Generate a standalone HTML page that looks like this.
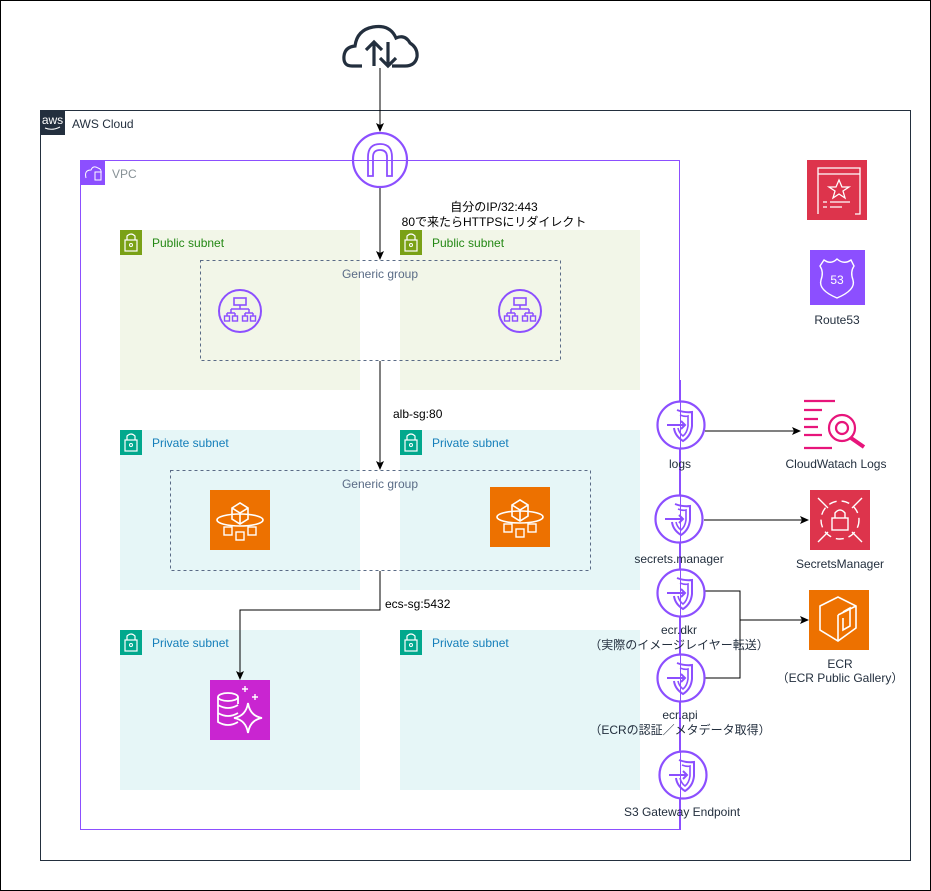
<!DOCTYPE html>
<html><head><meta charset="utf-8"><style>
html,body{margin:0;padding:0;background:#fff;}
svg{display:block;}
text{font-family:"Liberation Sans","Noto Sans CJK JP",sans-serif;font-size:12px;}
</style></head><body>
<svg width="931" height="891" viewBox="0 0 931 891" xmlns="http://www.w3.org/2000/svg">
<defs>
<marker id="ar" markerWidth="10" markerHeight="10" refX="8" refY="5" orient="auto" markerUnits="userSpaceOnUse"><path d="M0,1 L9,5 L0,9 L2,5 Z" fill="#000"/></marker>
<g id="ep">
<circle r="23.5" fill="#fff" stroke="#8C4FFF" stroke-width="2.2"/>
<path d="M-4,-15 Q4,-12 11,-13 L11,1 Q10,11 2,16 Q-6,11 -7,3" fill="none" stroke="#8C4FFF" stroke-width="2"/>
<path d="M-1,-10 Q4,-8 7,-9 L7,1 Q6,8 2,11 Q-2,8 -3,3" fill="none" stroke="#8C4FFF" stroke-width="1.6"/>
<path d="M-14,0 L4,0 M0,-4 L4,0 L0,4" fill="none" stroke="#8C4FFF" stroke-width="2"/>
</g>
<g id="alb">
<circle r="21" fill="none" stroke="#8C4FFF" stroke-width="2"/>
<rect x="-6" y="-13" width="12" height="7" fill="none" stroke="#8C4FFF" stroke-width="1.6"/>
<path d="M0,-6 V-2 M-9,-2 H9 M-9,-2 V2 M9,-2 V2 M-13,2 H-5 M5,2 H13 M-13,2 V5 M-5,2 V5 M5,2 V5 M13,2 V5" fill="none" stroke="#8C4FFF" stroke-width="1.5"/>
<rect x="-15.5" y="5" width="5" height="5" fill="none" stroke="#8C4FFF" stroke-width="1.4"/>
<rect x="-7.5" y="5" width="5" height="5" fill="none" stroke="#8C4FFF" stroke-width="1.4"/>
<rect x="2.5" y="5" width="5" height="5" fill="none" stroke="#8C4FFF" stroke-width="1.4"/>
<rect x="10.5" y="5" width="5" height="5" fill="none" stroke="#8C4FFF" stroke-width="1.4"/>
</g>
<g id="fg">
<rect width="60" height="60" fill="#ED7100"/>
<path d="M22,18 L30,13 L38,18 L38,29 L30,34 L22,29 Z M22,18 L30,23 L38,18 M30,23 V34" fill="none" stroke="#fff" stroke-width="1.6"/>
<ellipse cx="30" cy="30" rx="23" ry="6" fill="none" stroke="#fff" stroke-width="1.6"/>
<rect x="14" y="37" width="8" height="8" fill="none" stroke="#fff" stroke-width="1.4"/>
<rect x="26" y="42" width="8" height="8" fill="none" stroke="#fff" stroke-width="1.4"/>
<rect x="38" y="37" width="8" height="8" fill="none" stroke="#fff" stroke-width="1.4"/>
</g>
<g id="lock">
<rect width="22" height="25" fill="currentColor"/>
<rect x="5" y="10" width="12" height="11" fill="none" stroke="#fff" stroke-width="1.2"/>
<path d="M7,10 V6 Q11,2 15,6 V10" fill="none" stroke="#fff" stroke-width="1.2"/>
<circle cx="11" cy="15" r="1.5" fill="none" stroke="#fff"/>
</g>
</defs>

<rect x="0.5" y="0.5" width="930" height="890" fill="#fff" stroke="#000"/>

<!-- AWS cloud -->
<rect x="40.5" y="110.5" width="870" height="750" fill="none" stroke="#232F3E"/>
<rect x="40" y="110" width="25" height="25" fill="#232F3E"/>
<text x="52.5" y="124" fill="#fff" font-size="9" text-anchor="middle">aws</text>
<path d="M45,128 Q52,131 60,127" fill="none" stroke="#fff" stroke-width="1"/>
<text x="72" y="128" fill="#232F3E">AWS Cloud</text>

<!-- VPC -->
<rect x="80.5" y="160.5" width="599" height="669" fill="none" stroke="#8C4FFF"/>
<rect x="80" y="160" width="25" height="25" fill="#8C4FFF"/>
<path d="M86,178 Q84,170 91,170 Q93,165 98,168 Q102,169 101,174" fill="none" stroke="#fff" stroke-width="1"/>
<rect x="95" y="172" width="6" height="8" fill="none" stroke="#fff"/>
<text x="112" y="178" fill="#879196">VPC</text>

<!-- subnets -->
<rect x="120" y="230" width="240" height="160" fill="#F2F6E8"/>
<rect x="400" y="230" width="240" height="160" fill="#F2F6E8"/>
<rect x="120" y="430" width="240" height="160" fill="#E6F6F7"/>
<rect x="400" y="430" width="240" height="160" fill="#E6F6F7"/>
<rect x="120" y="630" width="240" height="160" fill="#E6F6F7"/>
<rect x="400" y="630" width="240" height="160" fill="#E6F6F7"/>
<g color="#7AA116"><use href="#lock" x="120" y="230"/><use href="#lock" x="400" y="230"/></g>
<g color="#01A88D"><use href="#lock" x="120" y="430"/><use href="#lock" x="400" y="430"/><use href="#lock" x="120" y="630"/><use href="#lock" x="400" y="630"/></g>
<text x="152" y="247" fill="#248814">Public subnet</text>
<text x="432" y="247" fill="#248814">Public subnet</text>
<text x="152" y="447" fill="#147EBA">Private subnet</text>
<text x="432" y="447" fill="#147EBA">Private subnet</text>
<text x="152" y="647" fill="#147EBA">Private subnet</text>
<text x="432" y="647" fill="#147EBA">Private subnet</text>

<!-- generic groups -->
<rect x="200.5" y="260.5" width="360" height="100" fill="none" stroke="#5A6B86" stroke-dasharray="3,3"/>
<text x="380" y="278" fill="#5A6B86" text-anchor="middle">Generic group</text>
<rect x="170.5" y="470.5" width="420" height="100" fill="none" stroke="#5A6B86" stroke-dasharray="3,3"/>
<text x="380" y="488" fill="#5A6B86" text-anchor="middle">Generic group</text>

<use href="#alb" x="240" y="311"/>
<use href="#alb" x="520" y="311"/>
<use href="#fg" x="210" y="490"/>
<use href="#fg" x="490" y="487"/>

<!-- RDS -->
<rect x="210" y="680" width="60" height="60" fill="#C925D1"/>
<ellipse cx="228" cy="697" rx="10" ry="4" fill="none" stroke="#fff" stroke-width="1.8"/>
<path d="M218,697 V722 Q228,728 238,722 M218,705 Q228,711 238,705 M218,713 Q228,719 238,713 M238,697 V704" fill="none" stroke="#fff" stroke-width="1.8"/>
<path d="M248,703 Q250,716 262,718 Q250,720 248,733 Q246,720 234,718 Q246,716 248,703 Z" fill="none" stroke="#fff" stroke-width="1.8"/>
<path d="M245,686 v6 M242,689 h6 M255,694 v6 M252,697 h6" stroke="#fff" stroke-width="1.4"/>

<!-- Internet cloud -->
<path d="M362,66 H352 Q343,66 344,56 Q345,47 355,46 Q357,30 373,27 Q390,24 396,38 Q405,34 410,43 Q418,48 417,57 Q415,66 405,66 H392" fill="none" stroke="#232F3E" stroke-width="3.2"/>
<path d="M374,66 V42 M366,50 L374,42 L382,50 M388,42 V66 M380,58 L388,66 L396,58" fill="none" stroke="#232F3E" stroke-width="3.2"/>

<!-- connectors -->
<line x1="380" y1="68" x2="380" y2="131" stroke="#000" marker-end="url(#ar)"/>
<line x1="380" y1="188" x2="380" y2="259" stroke="#000" marker-end="url(#ar)"/>
<line x1="380" y1="361" x2="380" y2="469" stroke="#000" marker-end="url(#ar)"/>
<path d="M380,571 V610 H240 V679" fill="none" stroke="#000" marker-end="url(#ar)"/>

<!-- IGW -->
<circle cx="380" cy="160" r="27" fill="#fff" stroke="#8C4FFF" stroke-width="2.2"/>
<path d="M368,176 V157 Q368,144 380,144 Q392,144 392,157 V176 H387 V157 Q387,150 380,150 Q373,150 373,157 V176 Z" fill="none" stroke="#8C4FFF" stroke-width="1.8"/>
<line x1="353" y1="160.5" x2="407" y2="160.5" stroke="#8C4FFF"/>

<text x="494" y="211" text-anchor="middle" fill="#000">自分のIP/32:443</text>
<text x="494" y="226" text-anchor="middle" fill="#000">80で来たらHTTPSにリダイレクト</text>
<text x="393" y="418" fill="#000">alb-sg:80</text>
<text x="385" y="608" fill="#000">ecs-sg:5432</text>

<!-- endpoints -->
<path d="M705,431 H800" stroke="#000" marker-end="url(#ar)"/>
<path d="M704,520 H808" stroke="#000" marker-end="url(#ar)"/>
<path d="M703,591 H740 V678 H703 M740,620 H808" fill="none" stroke="#000" marker-end="url(#ar)"/>
<use href="#ep" x="681" y="425"/>
<use href="#ep" x="679" y="519"/>
<use href="#ep" x="681" y="593"/>
<use href="#ep" x="681" y="678"/>
<use href="#ep" x="683" y="775"/>
<line x1="680.5" y1="380" x2="680.5" y2="830" stroke="#8C4FFF"/>
<g text-anchor="middle" fill="#232F3E">
<text x="680" y="468">logs</text>
<text x="679" y="563">secrets.manager</text>
<text x="679" y="634">ecr.dkr</text>
<text x="679" y="649">（実際のイメージレイヤー転送）</text>
<text x="680" y="719">ecr.api</text>
<text x="680" y="734">（ECRの認証／メタデータ取得）</text>
<text x="682" y="816">S3 Gateway Endpoint</text>
<text x="836" y="468">CloudWatach Logs</text>
<text x="840" y="568">SecretsManager</text>
<text x="840" y="668">ECR</text>
<text x="840" y="682">（ECR Public Gallery）</text>
<text x="837" y="324">Route53</text>
</g>

<!-- CloudWatch logs -->
<g stroke="#E7157B" stroke-width="2.2" fill="none">
<path d="M804,401 H835 M804,410 H822 M804,419 H818 M804,427 H818 M804,435 H822 M804,448 H832"/>
<circle cx="842" cy="428" r="13"/><circle cx="842" cy="428" r="6"/>
<path d="M851,438 L864,447" stroke-width="4"/>
</g>

<!-- Secrets Manager -->
<rect x="810" y="490" width="60" height="60" fill="#DD344C"/>
<g stroke="#fff" stroke-width="1.4" fill="none">
<circle cx="840" cy="520" r="19" stroke-dasharray="8,5"/>
<path d="M818,498 L828,508 M862,498 L852,508 M818,542 L828,532 M862,542 L852,532"/>
<rect x="832" y="518" width="16" height="12"/><path d="M835,518 V513 Q840,507 845,513 V518"/>
</g>

<!-- ECR -->
<rect x="809" y="590" width="60" height="60" fill="#ED7100"/>
<g stroke="#fff" stroke-width="1.6" fill="none">
<path d="M820,606 L838,597 L856,606 L856,628 L838,641 L820,630 Z M838,615 V641 M838,615 L856,606 M843,612 L850,608 V626 L843,630 V618"/>
</g>

<!-- top-right red icon -->
<rect x="807" y="160" width="60" height="60" fill="#DD344C"/>
<g stroke="#fff" stroke-width="1.3" fill="none">
<path d="M818,214 V168 H860 V214 H855 M818,174 H860"/>
<path d="M839,180 L842,187 L849,187 L843,191 L845,198 L839,194 L833,198 L835,191 L829,187 L836,187 Z"/>
<path d="M823,202 H827 M830,202 H850 M823,207 H827 M830,207 H842"/>
</g>

<!-- Route53 -->
<rect x="810" y="250" width="55" height="55" fill="#8C4FFF"/>
<path d="M824,260 Q831,265 837,259 Q844,265 851,260 L854,266 Q850,272 853,280 Q856,290 837,298 Q818,290 821,280 Q824,272 820,266 Z" fill="none" stroke="#fff" stroke-width="1.4"/>
<text x="837" y="284" fill="#fff" font-size="12" text-anchor="middle">53</text>
</svg>
</body></html>
